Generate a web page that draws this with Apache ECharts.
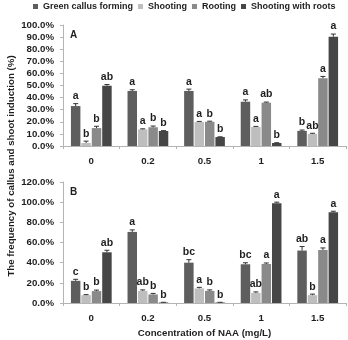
<!DOCTYPE html>
<html><head><meta charset="utf-8">
<script src="https://cdn.jsdelivr.net/npm/echarts@6/dist/echarts.min.js"></script>
<style>html,body{margin:0;padding:0;background:#fff}#c{width:348px;height:340px}</style>
</head><body><div id="c"></div>
<script>
const categories = ['0', '0.2', '0.5', '1', '1.5'];
const seriesNames = ['Green callus forming', 'Shooting', 'Rooting', 'Shooting with roots'];
const colors = ['#5e5e5e', '#bebebe', '#8a8a8a', '#464646'];

// Panel A values (%)
const aGreen = [33, 45.5, 45.5, 36.6, 12.5];
const aShoot = [2.5, 13.7, 19.8, 15.7, 10];
const aRoot = [14.8, 15.5, 20, 35.8, 56];
const aShootRoot = [49.8, 12.4, 7.4, 2.5, 90.3];
const aErrGreen = [2, 1, 1.5, 1.5, 0.7];
const aErrShoot = [1.5, 0.5, 0.5, 0.5, 0.5];
const aErrRoot = [1.5, 1, 0.5, 0.5, 1.5];
const aErrShootRoot = [1, 0.3, 0.2, 0.2, 2.2];
const aLetGreen = ['a', 'a', 'a', 'a', 'b'];
const aLetShoot = ['b', 'a', 'a', 'a', 'ab'];
const aLetRoot = ['b', 'b', 'b', 'ab', 'a'];
const aLetShootRoot = ['ab', 'b', 'b', 'b', 'a'];

// Panel B values (%)
const bGreen = [22, 70.5, 40, 38.4, 52];
const bShoot = [7.8, 12, 14.5, 10, 7.8];
const bRoot = [11.8, 8.5, 12, 38.7, 52.6];
const bShootRoot = [50.3, 0.5, 0.5, 99, 90];
const bErrGreen = [1.5, 2, 3, 1.5, 4];
const bErrShoot = [0.5, 1, 1, 1, 1];
const bErrRoot = [1, 1, 1, 1, 2];
const bErrShootRoot = [2, 0.2, 0.2, 1, 1];
const bLetGreen = ['c', 'a', 'bc', 'bc', 'ab'];
const bLetShoot = ['b', 'ab', 'a', 'ab', 'b'];
const bLetRoot = ['b', 'b', 'b', 'a', 'a'];
const bLetShootRoot = ['ab', 'b', 'b', 'a', 'a'];

const yTicksA = {min: 0, max: 100, interval: 10};
const yTicksB = {min: 0, max: 120, interval: 20};

const panels = [
  {vals: [aGreen, aShoot, aRoot, aShootRoot], errs: [aErrGreen, aErrShoot, aErrRoot, aErrShootRoot], lets: [aLetGreen, aLetShoot, aLetRoot, aLetShootRoot]},
  {vals: [bGreen, bShoot, bRoot, bShootRoot], errs: [bErrGreen, bErrShoot, bErrRoot, bErrShootRoot], lets: [bLetGreen, bLetShoot, bLetRoot, bLetShootRoot]}
];

const CAT_GAP = 0.28, BAR_GAP = 0.1;
const FONT = 'Liberation Sans, Arial, sans-serif';
const txtColor = '#1e1e1e';
const axisColor = '#b4b4b4';

const chart = echarts.init(document.getElementById('c'));
const series = [];
panels.forEach((p, gi) => {
  p.vals.forEach((arr, si) => {
    series.push({
      name: seriesNames[si], type: 'bar', xAxisIndex: gi, yAxisIndex: gi,
      data: arr, barCategoryGap: (CAT_GAP * 100) + '%', barGap: (BAR_GAP * 100) + '%',
      itemStyle: {color: colors[si]}
    });
  });
  const data = [], letterList = [];
  p.vals.forEach((arr, si) => arr.forEach((v, ci) => {
    data.push([ci, si, v, p.errs[si][ci]]);
    letterList.push(p.lets[si][ci]);
  }));
  series.push({
    type: 'custom', xAxisIndex: gi, yAxisIndex: gi, z: 5, silent: true,
    encode: {x: 0, y: 2},
    data: data,
    renderItem: function (params, api) {
      const ci = api.value(0), si = api.value(1), v = api.value(2), e = api.value(3);
      const catW = api.size([1, 0])[0];
      const bw = (catW - catW * CAT_GAP) / (4 + 3 * BAR_GAP);
      const gap = bw * BAR_GAP;
      const groupW = 4 * bw + 3 * gap;
      const base = api.coord([ci, v]);
      const x = base[0] - groupW / 2 + si * (bw + gap) + bw / 2;
      const top = api.coord([ci, v + e])[1];
      return {
        type: 'group', children: [
          {type: 'line', shape: {x1: x, y1: base[1], x2: x, y2: top}, style: {stroke: '#333', lineWidth: 1}},
          {type: 'line', shape: {x1: x - 2.5, y1: top, x2: x + 2.5, y2: top}, style: {stroke: '#333', lineWidth: 1}},
          {type: 'text', x: x, y: top - 2, style: {text: letterList[params.dataIndex], fill: txtColor, font: 'bold 10.5px ' + FONT, textAlign: 'center', textVerticalAlign: 'bottom'}}
        ]
      };
    }
  });
});

function yAxis(gi, t) {
  return {
    type: 'value', gridIndex: gi, min: t.min, max: t.max, interval: t.interval,
    axisLine: {show: true, lineStyle: {color: axisColor}},
    axisTick: {show: true, length: 3, lineStyle: {color: axisColor}},
    splitLine: {show: false},
    axisLabel: {margin: 9, color: txtColor, fontWeight: 'bold', fontSize: 9.7, fontFamily: FONT, formatter: v => v.toFixed(1) + '%'}
  };
}
function xAxis(gi) {
  const ax = {
    type: 'category', gridIndex: gi, data: categories,
    axisLine: {show: true, lineStyle: {color: axisColor}},
    axisTick: {show: true, length: 3, lineStyle: {color: axisColor}},
    axisLabel: {margin: 10, color: txtColor, fontWeight: 'bold', fontSize: 9.7, fontFamily: FONT}
  };
  if (gi === 1) {
    ax.name = 'Concentration of NAA (mg/L)';
    ax.nameLocation = 'middle';
    ax.nameGap = 25;
    ax.nameTextStyle = {color: txtColor, fontWeight: 'bold', fontSize: 9.7, fontFamily: FONT};
  }
  return ax;
}

chart.setOption({
  animation: false,
  backgroundColor: '#fff',
  legend: {
    data: seriesNames, top: 2, left: 33, width: 315, padding: 0, itemWidth: 5, itemHeight: 5, itemGap: 5,
    icon: 'rect',
    textStyle: {color: txtColor, fontWeight: 'bold', fontSize: 9, fontFamily: FONT}
  },
  grid: [
    {left: 63, right: 2, top: 25, height: 121},
    {left: 63, right: 2, top: 182, height: 121}
  ],
  xAxis: [xAxis(0), xAxis(1)],
  yAxis: [yAxis(0, yTicksA), yAxis(1, yTicksB)],
  graphic: [
    {type: 'text', left: 70, top: 30, style: {text: 'A', fill: txtColor, font: 'bold 10px ' + FONT}},
    {type: 'text', left: 70, top: 187, style: {text: 'B', fill: txtColor, font: 'bold 10px ' + FONT}},
    {type: 'text', x: 11, y: 166, rotation: Math.PI / 2, style: {text: 'The frequency of callus and shoot induction (%)', fill: txtColor, font: 'bold 9.7px ' + FONT, textAlign: 'center', textVerticalAlign: 'middle'}}
  ],
  series: series
});
</script>
</body></html>
